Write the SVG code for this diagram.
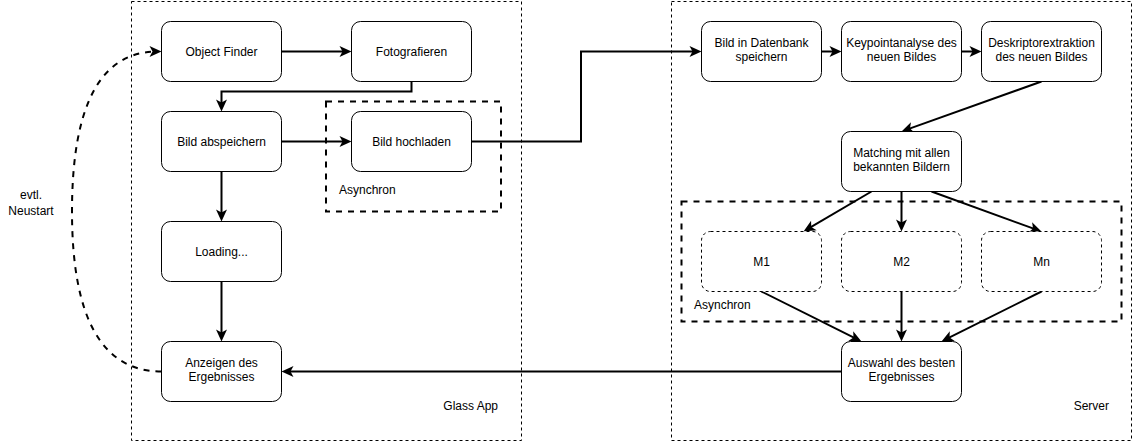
<svg xmlns="http://www.w3.org/2000/svg" width="1133" height="446" viewBox="0 0 1133 446">
<style>
text{font-family:"Liberation Sans",Arial,sans-serif;font-size:12px;fill:#000}
.c{text-anchor:middle}
.e{text-anchor:end}
.cont{fill:#fff;stroke:#000;stroke-width:1;stroke-dasharray:3 3}
.grp{fill:none;stroke:#000;stroke-width:2;stroke-dasharray:6 6}
.node{fill:#fff;stroke:#000;stroke-width:1}
.dnode{fill:#fff;stroke:#000;stroke-width:1;stroke-dasharray:3 3}
.edge{fill:none;stroke:#000;stroke-width:2;marker-end:url(#arr)}
.dedge{fill:none;stroke:#000;stroke-width:2;stroke-dasharray:6 6;marker-end:url(#arr)}
</style>
<defs>
<marker id="arr" markerUnits="userSpaceOnUse" refX="0" refY="0" markerWidth="14" markerHeight="14" orient="auto" overflow="visible">
<path d="M4,0 L-8,-5.5 L-5,0 L-8,5.5 Z" fill="#000"/>
</marker>
</defs>
<rect width="1133" height="446" fill="#fff"/>
<g id="glass-app">
<rect class="cont" x="131.5" y="1.5" width="390" height="439"/>
<text class="e" x="498" y="410">Glass App</text>
</g>
<g id="server">
<rect class="cont" x="671.5" y="1.5" width="460" height="439"/>
<text class="e" x="1109" y="410">Server</text>
</g>
<g id="async-left">
<rect class="grp" x="326" y="101.5" width="175" height="110"/>
<text x="339" y="194">Asynchron</text>
</g>
<g id="async-right">
<rect class="grp" x="681.5" y="201.5" width="440" height="120"/>
<text x="694" y="309">Asynchron</text>
</g>
<g id="connectors">
<path class="edge" d="M281.5,51.5 H347.5"/>
<path class="edge" d="M411.5,81.5 V91.5 H221.5 V107.5"/>
<path class="edge" d="M281.5,141.5 H347.5"/>
<path class="edge" d="M221.5,171.5 V217.5"/>
<path class="edge" d="M221.5,281.5 V337.5"/>
<path class="edge" d="M471.5,141.5 H581 V51.5 H697.5"/>
<path class="edge" d="M821.5,51.5 H837.5"/>
<path class="edge" d="M961.5,51.5 H977.5"/>
<path class="edge" d="M1041.5,81.5 L905.27,130.15"/>
<path class="edge" d="M871.5,191.5 L806.95,229.47"/>
<path class="edge" d="M901.5,191.5 V227.5"/>
<path class="edge" d="M931.5,191.5 L1037.74,230.13"/>
<path class="edge" d="M761.5,291.5 L857.92,339.71"/>
<path class="edge" d="M901.5,291.5 V337.5"/>
<path class="edge" d="M1041.5,291.5 L945.08,339.71"/>
<path class="edge" d="M841.5,371.5 H285.5"/>
<path class="dedge" d="M161.5,371.5 Q72,371.5 72,211.5 Q72,51.5 157.5,51.5"/>
<text class="c" x="31" y="198.5">evtl.</text>
<text class="c" x="31" y="215.3">Neustart</text>
</g>
<g id="object-finder">
<rect class="node" x="161.5" y="21.5" width="120" height="60" rx="9"/>
<text class="c" x="221.5" y="55.8">Object Finder</text>
</g>
<g id="fotografieren">
<rect class="node" x="351.5" y="21.5" width="120" height="60" rx="9"/>
<text class="c" x="411.5" y="55.8">Fotografieren</text>
</g>
<g id="bild-abspeichern">
<rect class="node" x="161.5" y="111.5" width="120" height="60" rx="9"/>
<text class="c" x="221.5" y="145.8">Bild abspeichern</text>
</g>
<g id="bild-hochladen">
<rect class="node" x="351.5" y="111.5" width="120" height="60" rx="9"/>
<text class="c" x="411.5" y="145.8">Bild hochladen</text>
</g>
<g id="loading">
<rect class="node" x="161.5" y="221.5" width="120" height="60" rx="9"/>
<text class="c" x="221.5" y="255.8">Loading...</text>
</g>
<g id="anzeigen">
<rect class="node" x="161.5" y="341.5" width="120" height="60" rx="9"/>
<text class="c" x="221.5" y="366.8">Anzeigen des</text>
<text class="c" x="221.5" y="380.8">Ergebnisses</text>
</g>
<g id="bild-datenbank">
<rect class="node" x="701.5" y="21.5" width="120" height="60" rx="9"/>
<text class="c" x="761.5" y="46.8">Bild in Datenbank</text>
<text class="c" x="761.5" y="60.8">speichern</text>
</g>
<g id="keypoint">
<rect class="node" x="841.5" y="21.5" width="120" height="60" rx="9"/>
<text class="c" x="901.5" y="46.8">Keypointanalyse des</text>
<text class="c" x="901.5" y="60.8">neuen Bildes</text>
</g>
<g id="deskriptor">
<rect class="node" x="981.5" y="21.5" width="120" height="60" rx="9"/>
<text class="c" x="1041.5" y="46.8">Deskriptorextraktion</text>
<text class="c" x="1041.5" y="60.8">des neuen Bildes</text>
</g>
<g id="matching">
<rect class="node" x="841.5" y="131.5" width="120" height="60" rx="9"/>
<text class="c" x="901.5" y="156.8">Matching mit allen</text>
<text class="c" x="901.5" y="170.8">bekannten Bildern</text>
</g>
<g id="m1">
<rect class="dnode" x="701.5" y="231.5" width="120" height="60" rx="9"/>
<text class="c" x="761.5" y="265.8">M1</text>
</g>
<g id="m2">
<rect class="dnode" x="841.5" y="231.5" width="120" height="60" rx="9"/>
<text class="c" x="901.5" y="265.8">M2</text>
</g>
<g id="mn">
<rect class="dnode" x="981.5" y="231.5" width="120" height="60" rx="9"/>
<text class="c" x="1041.5" y="265.8">Mn</text>
</g>
<g id="auswahl">
<rect class="node" x="841.5" y="341.5" width="120" height="60" rx="9"/>
<text class="c" x="901.5" y="366.8">Auswahl des besten</text>
<text class="c" x="901.5" y="380.8">Ergebnisses</text>
</g>
</svg>
